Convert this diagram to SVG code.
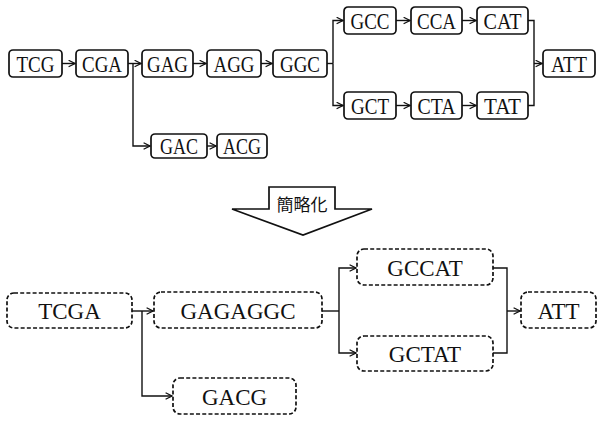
<svg xmlns="http://www.w3.org/2000/svg" width="599" height="426" viewBox="0 0 599 426">
  <style>
    .k { fill: #fff; stroke: #111; stroke-width: 1.7; }
    .d { fill: #fff; stroke: #111; stroke-width: 1.7; stroke-dasharray: 4 2.2; }
    .t { font-family: "Liberation Serif", "Times New Roman", serif; font-size: 23px; fill: #111; text-anchor: middle; dominant-baseline: central; }
    .tb { font-family: "Liberation Serif", "Times New Roman", serif; font-size: 23px; fill: #111; text-anchor: middle; dominant-baseline: central; }
    .c { fill: none; stroke: #111; stroke-width: 1.4; }
    .ca { fill: none; stroke: #111; stroke-width: 1.4; marker-end: url(#ah); }
  </style>
  <defs>
    <marker id="ah" viewBox="0 0 10 10" refX="9" refY="5" markerWidth="8" markerHeight="8" markerUnits="userSpaceOnUse" orient="auto">
      <path d="M1,1 L9,5 L1,9" fill="none" stroke="#111" stroke-width="1.6"/>
    </marker>
  </defs>

  <!-- connectors -->
  <g id="connectors">
    <!-- upper graph -->
    <path class="ca" d="M62,63.5 H75"/>
    <path class="ca" d="M128,63.5 H141"/>
    <path class="ca" d="M133,63.5 V146 H150"/>
    <path class="ca" d="M193,63.5 H206"/>
    <path class="ca" d="M261,63.5 H272"/>
    <path class="c" d="M327,63.5 H333"/>
    <path class="ca" d="M333,63.5 V20.5 H343"/>
    <path class="ca" d="M333,63.5 V105.5 H343"/>
    <path class="ca" d="M396,20.5 H410"/>
    <path class="ca" d="M462,20.5 H476"/>
    <path class="ca" d="M396,105.5 H410"/>
    <path class="ca" d="M462,105.5 H476"/>
    <path class="c" d="M528,20.5 H534 V105.5 H528"/>
    <path class="ca" d="M534,63.5 H542"/>
    <path class="ca" d="M207,146 H216"/>
    <!-- lower graph -->
    <path class="ca" d="M132,311 H153"/>
    <path class="ca" d="M142,311 V396 H172"/>
    <path class="c" d="M322,311 H339"/>
    <path class="ca" d="M339,311 V268 H356"/>
    <path class="ca" d="M339,311 V353 H356"/>
    <path class="c" d="M493,268 H507 V353 H493"/>
    <path class="ca" d="M507,311 H520"/>
  </g>

  <!-- upper graph nodes (narrow lettering) -->
  <g id="n-TCG"><rect class="k" x="9" y="50" width="53" height="27" rx="4"/><text class="t" x="35.5" y="64" textLength="38" lengthAdjust="spacingAndGlyphs">TCG</text></g>
  <g id="n-CGA"><rect class="k" x="76" y="50" width="52" height="27" rx="4"/><text class="t" x="102" y="64" textLength="40" lengthAdjust="spacingAndGlyphs">CGA</text></g>
  <g id="n-GAG"><rect class="k" x="142" y="50" width="51" height="27" rx="4"/><text class="t" x="167.5" y="64" textLength="41" lengthAdjust="spacingAndGlyphs">GAG</text></g>
  <g id="n-AGG"><rect class="k" x="207" y="50" width="54" height="27" rx="4"/><text class="t" x="234" y="64" textLength="41" lengthAdjust="spacingAndGlyphs">AGG</text></g>
  <g id="n-GGC"><rect class="k" x="273" y="50" width="54" height="27" rx="4"/><text class="t" x="300" y="64" textLength="40" lengthAdjust="spacingAndGlyphs">GGC</text></g>
  <g id="n-GCC"><rect class="k" x="344" y="7" width="52" height="27" rx="4"/><text class="t" x="370" y="21" textLength="39" lengthAdjust="spacingAndGlyphs">GCC</text></g>
  <g id="n-CCA"><rect class="k" x="411" y="7" width="51" height="27" rx="4"/><text class="t" x="436.5" y="21" textLength="39" lengthAdjust="spacingAndGlyphs">CCA</text></g>
  <g id="n-CAT"><rect class="k" x="477" y="7" width="51" height="27" rx="4"/><text class="t" x="502.5" y="21" textLength="38" lengthAdjust="spacingAndGlyphs">CAT</text></g>
  <g id="n-GCT"><rect class="k" x="344" y="92" width="52" height="27" rx="4"/><text class="t" x="370" y="106" textLength="38" lengthAdjust="spacingAndGlyphs">GCT</text></g>
  <g id="n-CTA"><rect class="k" x="411" y="92" width="51" height="27" rx="4"/><text class="t" x="436.5" y="106" textLength="38" lengthAdjust="spacingAndGlyphs">CTA</text></g>
  <g id="n-TAT"><rect class="k" x="477" y="92" width="51" height="27" rx="4"/><text class="t" x="502.5" y="106" textLength="37" lengthAdjust="spacingAndGlyphs">TAT</text></g>
  <g id="n-ATT"><rect class="k" x="543" y="50" width="52" height="27" rx="4"/><text class="t" x="569" y="64" textLength="36" lengthAdjust="spacingAndGlyphs">ATT</text></g>
  <g id="n-GAC"><rect class="k" x="151" y="134" width="56" height="24" rx="4"/><text class="t" x="179" y="146.5" textLength="38" lengthAdjust="spacingAndGlyphs">GAC</text></g>
  <g id="n-ACG"><rect class="k" x="217" y="134" width="50" height="24" rx="4"/><text class="t" x="242" y="146.5" textLength="38" lengthAdjust="spacingAndGlyphs">ACG</text></g>

  <!-- simplification arrow -->
  <g id="simplify">
    <polygon class="k" points="269,187 335,187 335,209 372,209 303,235 232,209 269,209"/>
    <text x="302" y="211" font-family="'Noto Sans CJK JP', 'Noto Sans CJK SC', sans-serif" font-size="17" fill="#111" text-anchor="middle">簡略化</text>
  </g>

  <!-- lower graph nodes -->
  <g id="m-TCGA"><rect class="d" x="7" y="293" width="125" height="35" rx="7"/><text class="tb" x="69.5" y="311">TCGA</text></g>
  <g id="m-GAGAGGC"><rect class="d" x="154" y="292" width="168" height="36" rx="7"/><text class="tb" x="238" y="311">GAGAGGC</text></g>
  <g id="m-GCCAT"><rect class="d" x="357" y="249" width="136" height="36" rx="7"/><text class="tb" x="425" y="268">GCCAT</text></g>
  <g id="m-GCTAT"><rect class="d" x="357" y="336" width="136" height="35" rx="7"/><text class="tb" x="425" y="354">GCTAT</text></g>
  <g id="m-ATT"><rect class="d" x="521" y="292" width="75" height="36" rx="7"/><text class="tb" x="558.5" y="311">ATT</text></g>
  <g id="m-GACG"><rect class="d" x="173" y="378" width="123" height="36" rx="7"/><text class="tb" x="234.5" y="397">GACG</text></g>
</svg>
